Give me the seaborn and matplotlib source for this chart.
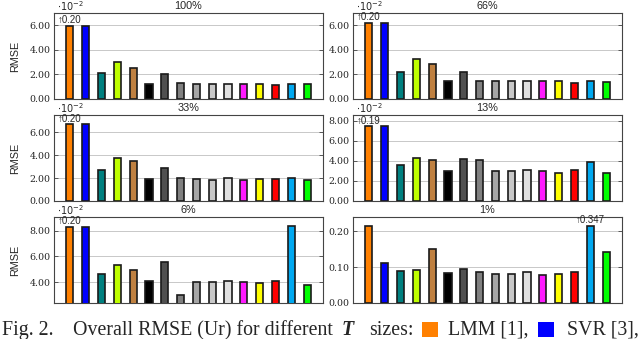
import matplotlib
matplotlib.use("Agg")
import matplotlib.pyplot as plt
import seaborn as sns
from matplotlib.patches import Rectangle
from matplotlib.ticker import FormatStrFormatter

sns.set_style("white")
plt.rcParams['font.family'] = ['DejaVu Serif']
SANS = ['Liberation Sans', 'DejaVu Sans']

# ------------------ DATA ------------------ #
methods = ["LMM", "SVR", "M3", "M4", "M5", "M6", "M7", "M8",
           "M9", "M10", "M11", "M12", "M13", "M14", "M15", "M16"]
colors = ["#ff8000", "#0000ff", "#008080", "#bfff00", "#bf8040", "#000000",
          "#505050", "#808080", "#a6a6a6", "#c8c8c8", "#e0e0e0", "#ff1aff",
          "#ffff00", "#ff0000", "#00a8f0", "#00ff00"]

panel_titles = ["100%", "66%", "33%", "13%", "6%", "1%"]

# shown bar heights (first five panels in units of 1e-2, clipped bars as drawn)
rmse_100 = [5.93, 5.93, 2.15, 3.00, 2.52, 1.25, 2.03, 1.33, 1.20, 1.20, 1.20, 1.20, 1.20, 1.11, 1.20, 1.20]
rmse_66 = [6.20, 6.20, 2.23, 3.29, 2.83, 1.44, 2.23, 1.44, 1.44, 1.44, 1.44, 1.44, 1.44, 1.33, 1.44, 1.36]
rmse_33 = [6.68, 6.68, 2.71, 3.74, 3.50, 1.94, 2.91, 2.00, 1.91, 1.80, 2.00, 1.80, 1.91, 1.91, 2.00, 1.82]
rmse_13 = [7.47, 7.47, 3.64, 4.34, 4.07, 2.97, 4.24, 4.14, 2.97, 2.97, 3.07, 2.97, 2.84, 3.07, 3.94, 2.77]
rmse_6 = [8.31, 8.26, 4.59, 5.32, 4.93, 4.05, 5.55, 2.99, 4.02, 4.02, 4.12, 4.02, 3.92, 4.12, 8.36, 3.79]
rmse_1 = [0.216, 0.111, 0.090, 0.092, 0.151, 0.083, 0.096, 0.086, 0.081, 0.081, 0.086, 0.079, 0.081, 0.086, 0.216, 0.143]

# labels for clipped bars: (bar index, text)
overflow_100 = (0, "↑0.20")
overflow_66 = (0, "↑0.20")
overflow_33 = (0, "↑0.20")
overflow_13 = (0, "↑0.19")
overflow_6 = (0, "↑0.20")
overflow_1 = (14, "↑0.347")

panel_values = [rmse_100, rmse_66, rmse_33, rmse_13, rmse_6, rmse_1]
panel_overflow = [overflow_100, overflow_66, overflow_33, overflow_13, overflow_6, overflow_1]
panel_ylim = [(0, 7.0), (0, 7.0), (0, 7.5), (0, 8.6), (2.37, 9.06), (0, 0.24)]
panel_yticks = [[0, 2, 4, 6], [0, 2, 4, 6], [0, 2, 4, 6], [0, 2, 4, 6, 8],
                [4, 6, 8], [0, 0.1, 0.2]]
panel_scaled = [True, True, True, True, True, False]

# ------------------ LAYOUT ------------------ #
W, H = 640, 339
fig = plt.figure(figsize=(W / 100, H / 100), dpi=100)

col_left = [54, 353]
row_top = [13, 115, 217]
ax_w, ax_h = 269, 86

for i, title in enumerate(panel_titles):
    r, c = divmod(i, 2)
    ax = fig.add_axes([col_left[c] / W, 1 - (row_top[r] + ax_h) / H, ax_w / W, ax_h / H])

    sns.barplot(x=methods, y=panel_values[i], hue=methods, palette=colors,
                legend=False, saturation=1, width=0.45, edgecolor="#1a1a1a",
                linewidth=1.2, ax=ax, zorder=3)

    ax.set_xlim(-1, 16)
    ax.set_ylim(*panel_ylim[i])
    ax.set_xticks([])
    ax.set_xlabel("")
    ax.set_yticks(panel_yticks[i])
    ax.yaxis.set_major_formatter(FormatStrFormatter("%.2f"))
    ax.tick_params(axis="y", direction="in", length=3, width=0.6, color="#444444",
                   left=True, right=True, labelsize=6.8, pad=2.5)
    ax.grid(axis="y", color="#c8c8c8", linewidth=0.7)
    ax.set_axisbelow(True)
    for s in ax.spines.values():
        s.set_color("#444444")
        s.set_linewidth(0.8)

    ax.text(0.5, 1 + 7 / ax_h, title, transform=ax.transAxes, ha="center",
            va="center", fontsize=7.8, family=SANS)
    if panel_scaled[i]:
        ax.text(0.012, 1 + 7 / ax_h, r"$\cdot10^{-2}$", transform=ax.transAxes,
                ha="left", va="center", fontsize=7)
    if c == 0:
        ax.set_ylabel("RMSE", fontsize=7.8, family=SANS)
        ax.yaxis.set_label_coords(-0.125, 0.5)
    else:
        ax.set_ylabel("")

    idx, label = panel_overflow[i]
    ax.annotate(label, xy=(idx, panel_values[i][idx]), xytext=(0, 0.5),
                textcoords="offset points", ha="center", va="bottom",
                fontsize=7, family=SANS, annotation_clip=False)

# ------------------ CAPTION ------------------ #
# (text or colour, kind, left edge in px)
caption = [("Fig. 2.", "normal", 2), ("Overall RMSE (Ur) for different", "normal", 73),
           ("T", "bolditalic", 342), ("sizes:", "normal", 369), ("#ff8000", "box", 422),
           ("LMM [1],", "normal", 448), ("#0000ff", "box", 538), ("SVR [3],", "normal", 567)]

base_px = 335
for text, kind, x_px in caption:
    if kind == "box":
        fig.patches.append(Rectangle((x_px / W, 1 - 337 / H), 16 / W, 15 / H,
                                     transform=fig.transFigure, facecolor=text,
                                     edgecolor="none"))
        continue
    fig.text(x_px / W, 1 - base_px / H, text, fontsize=14.3, family="Liberation Serif",
             fontweight="bold" if kind == "bolditalic" else "normal",
             fontstyle="italic" if kind == "bolditalic" else "normal",
             va="baseline", ha="left")

fig.savefig("out.png", dpi=100)
